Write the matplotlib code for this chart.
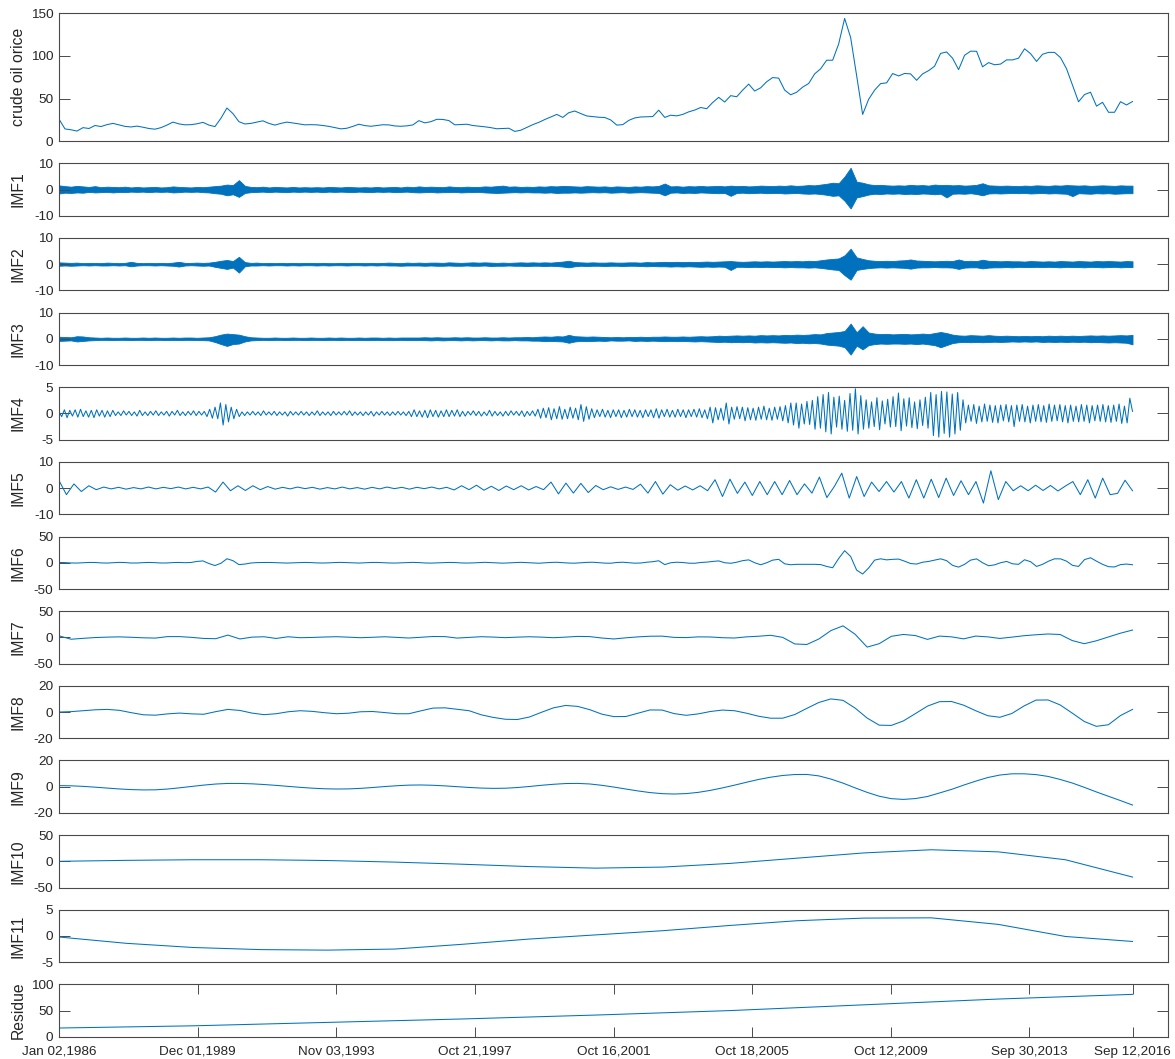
import matplotlib
matplotlib.use("Agg")
import matplotlib.pyplot as plt
import numpy as np

plt.rcParams["font.family"] = ["Liberation Sans", "DejaVu Sans"]
plt.rcParams["axes.unicode_minus"] = False

LINE_COLOR = "#0072BD"
AXIS_COLOR = "#4a4a4a"
TEXT_COLOR = "#262626"

# trading days from Jan 02,1986 to Sep 12,2016
N_DAYS = 7745
TICK_DAYS = [0, 1000, 2000, 3000, 4000, 5000, 6000, 7000, 7744]
TICK_LABELS = ["Jan 02,1986", "Dec 01,1989", "Nov 03,1993", "Oct 21,1997",
               "Oct 16,2001", "Oct 18,2005", "Oct 12,2009", "Sep 30,2013",
               "Sep 12,2016"]

PRICE = [26, 14.5, 13.5, 12, 16, 15, 18.5, 17.3, 19.5, 21,
         19.3, 17.5, 16.8, 17.8, 16.5, 15, 14.2, 16, 19, 22.5,
         20.4, 19.3, 19.5, 20.5, 22.2, 19, 17.2, 27, 39, 32.5,
         23, 20.3, 21, 22.5, 24, 21, 19, 21, 22.5, 21.5,
         20.4, 19.3, 19.5, 19.3, 18.5, 17.5, 16, 14.6, 15.3, 17.5,
         20, 18.4, 17.6, 18.5, 19.4, 19.2, 18, 17.6, 18.1, 19.2,
         24.2, 21.6, 23, 25.8, 25.6, 24.3, 19.3, 19.6, 20, 18.5,
         17.8, 17, 16, 14.7, 15, 15.3, 11.6, 13, 16.3, 19.5,
         22.2, 25.5, 28.5, 31.5, 28, 33.5, 35.5, 32.5, 29.7, 28.9,
         28.2, 27.9, 25, 19, 19.5, 24.5, 27.4, 28.5, 28.8, 29,
         36.5, 28, 30.6, 29.8, 31.5, 34.5, 36.6, 39.6, 38.2, 45.5,
         51.5, 46, 53.5, 52.2, 60, 67, 58.9, 62.7, 69.8, 74.7,
         74, 60, 54.5, 57.5, 63.5, 67.7, 79, 85, 95, 95,
         114, 144, 121.6, 77, 31.5, 49.2, 60, 67.6, 68.5, 79.4,
         76.6, 79.5, 79, 71.5, 79, 82.8, 88, 103, 104.7, 97.3,
         84, 100.8, 105.6, 105.5, 87.3, 92.2, 89.7, 90.5, 95.4, 95.4,
         97.4, 108.4, 102.7, 93.6, 102, 104.2, 104.2, 98, 85, 65.6,
         46.3, 54.8, 57.5, 41.2, 45.7, 34, 34, 46.4, 42.6, 46.6]

# upper / lower envelopes of the high-frequency IMFs
IMF1_HI = [1.6, 1.3, 1.1, 1.4, 1.2, 1.0, 1.3, 0.9, 1.1, 1.0,
           0.9, 1.1, 0.8, 1.0, 0.8, 0.9, 1.0, 0.8, 0.9, 1.2,
           1.0, 0.9, 0.8, 1.0, 0.9, 1.1, 1.3, 1.5, 1.9, 1.7,
           3.6, 1.4, 1.0, 0.9, 1.1, 0.8, 1.0, 0.9, 0.8, 1.0,
           0.8, 0.9, 0.8, 0.9, 0.8, 1.0, 0.9, 0.8, 1.0, 0.9,
           0.8, 0.9, 0.8, 1.0, 0.8, 0.9, 1.0, 0.8, 1.1, 0.9,
           1.2, 1.0, 1.1, 1.0, 0.9, 1.2, 1.0, 0.9, 1.1, 1.0,
           1.0, 1.2, 1.1, 1.3, 1.5, 1.1, 1.2, 1.0, 1.1, 1.0,
           1.2, 1.1, 1.3, 1.2, 1.4, 1.3, 1.2, 1.1, 1.3, 1.2,
           1.1, 1.2, 1.0, 1.2, 1.1, 1.0, 1.2, 1.1, 1.3, 1.2,
           1.4, 2.3, 1.2, 1.3, 1.1, 1.3, 1.2, 1.4, 1.2, 1.3,
           1.4, 1.2, 1.5, 1.3, 1.4, 1.2, 1.3, 1.5, 1.4, 1.3,
           1.5, 1.4, 1.6, 1.4, 1.5, 1.7, 1.6, 1.9, 2.2, 2.6,
           2.4, 5.0, 8.3, 3.0, 2.6, 2.0, 1.7, 1.8, 1.6, 1.5,
           1.6, 1.5, 1.8, 1.6, 1.7, 1.5, 1.9, 1.7, 1.8, 1.6,
           1.7, 1.5, 1.6, 1.8, 2.4, 1.6, 1.5, 1.4, 1.5, 1.4,
           1.3, 1.5, 1.4, 1.6, 1.5, 1.4, 1.6, 1.5, 1.7, 1.6,
           1.5, 1.6, 1.4, 1.5, 1.6, 1.5, 1.4, 1.6, 1.5, 1.5]
IMF1_LO = [-1.5, -1.2, -1.3, -1.1, -1.2, -0.9, -1.1, -1.0, -0.9, -1.1,
           -0.9, -1.0, -0.8, -0.9, -0.8, -1.0, -0.8, -0.9, -0.8, -1.1,
           -1.0, -0.8, -0.9, -0.8, -1.0, -1.1, -1.4, -1.6, -2.2, -1.8,
           -2.8, -1.3, -1.0, -0.9, -0.8, -1.0, -0.8, -0.9, -1.0, -0.8,
           -0.9, -0.8, -0.9, -0.8, -1.0, -0.8, -0.9, -0.8, -0.9, -1.0,
           -0.8, -0.9, -1.0, -0.8, -0.9, -0.8, -1.0, -0.9, -0.8, -1.0,
           -1.1, -1.0, -0.9, -1.1, -1.0, -1.0, -0.9, -1.1, -1.0, -1.0,
           -0.9, -1.1, -1.2, -1.3, -1.2, -1.1, -1.0, -1.1, -1.0, -1.1,
           -1.1, -1.2, -1.1, -1.3, -1.2, -1.2, -1.1, -1.2, -1.1, -1.0,
           -1.1, -1.0, -1.2, -1.1, -1.0, -1.2, -1.1, -1.0, -1.1, -1.2,
           -1.3, -2.2, -1.2, -1.1, -1.3, -1.2, -1.3, -1.1, -1.2, -1.3,
           -1.4, -1.3, -2.4, -1.3, -1.2, -1.4, -1.3, -1.2, -1.4, -1.3,
           -1.3, -1.5, -1.4, -1.3, -1.5, -1.6, -1.5, -1.7, -2.0, -2.4,
           -2.2, -4.3, -7.2, -3.0, -2.5, -1.9, -1.6, -1.7, -1.5, -1.6,
           -1.5, -1.7, -1.6, -1.7, -1.5, -1.6, -1.8, -1.6, -3.0, -1.6,
           -1.5, -1.6, -1.4, -1.7, -2.2, -1.5, -1.4, -1.5, -1.4, -1.3,
           -1.4, -1.3, -1.5, -1.4, -1.3, -1.5, -1.4, -1.5, -1.6, -2.5,
           -1.4, -1.5, -1.6, -1.4, -1.5, -1.4, -1.6, -1.5, -1.4, -1.4]

IMF2_HI = [0.7, 0.6, 0.5, 0.6, 0.4, 0.5, 0.5, 0.4, 0.6, 0.5,
           0.4, 0.5, 0.9, 0.5, 0.4, 0.5, 0.4, 0.5, 0.4, 0.6,
           0.9, 0.5, 0.5, 0.6, 0.5, 0.6, 0.9, 1.3, 1.6, 1.2,
           2.8, 0.8, 0.5, 0.6, 0.4, 0.5, 0.4, 0.5, 0.4, 0.5,
           0.4, 0.5, 0.5, 0.4, 0.5, 0.4, 0.4, 0.5, 0.4, 0.5,
           0.5, 0.4, 0.5, 0.4, 0.5, 0.6, 0.5, 0.4, 0.6, 0.5,
           0.6, 0.5, 0.6, 0.6, 0.5, 0.7, 0.6, 0.5, 0.6, 0.7,
           0.6, 0.7, 0.6, 0.5, 0.6, 0.5, 0.6, 0.7, 0.6, 0.7,
           0.6, 0.7, 0.6, 0.8, 1.0, 1.3, 0.8, 0.7, 0.6, 0.7,
           0.6, 0.6, 0.7, 0.6, 0.6, 0.7, 0.7, 0.6, 0.8, 0.7,
           0.8, 0.9, 0.8, 0.9, 0.8, 0.9, 0.8, 0.9, 1.0, 0.9,
           1.0, 1.1, 1.2, 1.0, 0.9, 1.0, 1.1, 1.0, 1.1, 1.0,
           1.1, 1.2, 1.1, 1.2, 1.1, 1.3, 1.2, 1.5, 1.8, 2.0,
           2.2, 3.4, 5.9, 2.6, 2.0, 1.5, 1.3, 1.2, 1.3, 1.2,
           1.4, 1.5, 1.8, 1.4, 1.3, 1.2, 1.1, 1.2, 1.3, 1.2,
           1.8, 1.2, 1.3, 1.2, 1.7, 1.3, 1.2, 1.1, 1.2, 1.1,
           1.1, 1.0, 1.2, 1.1, 1.0, 1.1, 1.0, 1.2, 1.1, 1.0,
           1.2, 1.1, 1.0, 1.2, 1.1, 1.2, 1.1, 1.0, 1.2, 1.1]
IMF2_LO = [-0.6, -0.5, -0.6, -0.5, -0.4, -0.5, -0.4, -0.5, -0.5, -0.4,
           -0.5, -0.4, -0.8, -0.5, -0.4, -0.4, -0.5, -0.4, -0.5, -0.6,
           -0.9, -0.5, -0.4, -0.5, -0.6, -0.5, -1.0, -1.4, -1.8, -1.3,
           -3.2, -0.8, -0.5, -0.5, -0.4, -0.5, -0.4, -0.4, -0.5, -0.4,
           -0.5, -0.4, -0.4, -0.5, -0.4, -0.5, -0.4, -0.4, -0.5, -0.4,
           -0.4, -0.5, -0.4, -0.5, -0.4, -0.5, -0.5, -0.6, -0.5, -0.5,
           -0.5, -0.6, -0.5, -0.6, -0.6, -0.5, -0.6, -0.6, -0.5, -0.6,
           -0.6, -0.5, -0.7, -0.6, -0.6, -0.5, -0.6, -0.6, -0.7, -0.6,
           -0.6, -0.7, -0.6, -0.7, -0.9, -1.2, -0.8, -0.6, -0.7, -0.6,
           -0.6, -0.7, -0.6, -0.6, -0.7, -0.6, -0.6, -0.7, -0.8, -0.7,
           -0.8, -0.8, -0.9, -0.8, -0.9, -0.8, -0.9, -1.0, -0.9, -1.0,
           -0.9, -1.0, -2.2, -1.0, -1.0, -1.1, -1.0, -1.1, -1.0, -1.1,
           -1.1, -1.2, -1.1, -1.2, -1.2, -1.3, -1.2, -1.4, -1.7, -2.0,
           -2.2, -4.2, -5.9, -2.2, -1.8, -1.5, -1.3, -1.2, -1.3, -1.2,
           -1.3, -1.4, -1.7, -1.3, -1.2, -1.2, -1.1, -1.2, -1.2, -1.3,
           -1.8, -1.3, -1.2, -1.2, -1.6, -1.3, -1.2, -1.2, -1.1, -1.2,
           -1.0, -1.1, -1.1, -1.0, -1.1, -1.0, -1.1, -1.2, -1.0, -1.1,
           -1.1, -1.2, -1.0, -1.1, -1.2, -1.1, -1.0, -1.2, -1.1, -1.1]

IMF3_HI = [0.8, 0.7, 0.6, 1.0, 0.9, 0.6, 0.5, 0.4, 0.5, 0.4,
           0.4, 0.5, 0.4, 0.4, 0.5, 0.4, 0.5, 0.4, 0.4, 0.5,
           0.4, 0.5, 0.5, 0.4, 0.5, 0.6, 1.0, 1.6, 2.0, 1.8,
           1.6, 1.0, 0.6, 0.5, 0.4, 0.4, 0.5, 0.4, 0.4, 0.5,
           0.4, 0.4, 0.5, 0.4, 0.4, 0.5, 0.4, 0.5, 0.4, 0.4,
           0.5, 0.4, 0.5, 0.5, 0.4, 0.5, 0.4, 0.5, 0.5, 0.5,
           0.5, 0.6, 0.5, 0.6, 0.5, 0.5, 0.6, 0.5, 0.6, 0.5,
           0.5, 0.6, 0.5, 0.5, 0.6, 0.5, 0.6, 0.6, 0.7, 0.6,
           0.8, 0.9, 0.8, 1.0, 0.9, 1.5, 1.0, 0.9, 0.8, 0.9,
           0.8, 0.7, 0.6, 0.7, 0.6, 0.7, 0.7, 0.8, 0.7, 0.8,
           0.8, 0.9, 0.8, 0.8, 0.9, 0.8, 0.9, 1.0, 0.9, 1.0,
           1.2, 1.1, 1.2, 1.3, 1.2, 1.3, 1.2, 1.4, 1.3, 1.4,
           1.3, 1.5, 1.4, 1.6, 1.5, 1.6, 1.8, 1.7, 2.2, 2.4,
           2.6, 3.0, 5.8, 2.5, 4.8, 2.4, 2.0, 1.8, 1.9, 1.7,
           1.8, 1.9, 1.7, 1.8, 2.0, 1.8, 2.2, 2.6, 2.2, 1.6,
           1.3, 1.2, 1.4, 1.3, 1.2, 1.4, 1.2, 1.1, 1.2, 1.1,
           1.0, 1.1, 1.0, 1.1, 1.0, 1.2, 1.1, 1.2, 1.1, 1.2,
           1.1, 1.2, 1.3, 1.2, 1.3, 1.2, 1.3, 1.4, 1.3, 1.5]
IMF3_LO = [-0.8, -0.7, -0.6, -1.0, -0.8, -0.6, -0.5, -0.4, -0.4, -0.5,
           -0.4, -0.4, -0.5, -0.4, -0.4, -0.5, -0.4, -0.4, -0.5, -0.4,
           -0.5, -0.4, -0.4, -0.5, -0.5, -0.6, -1.2, -2.0, -2.7, -2.0,
           -1.8, -1.0, -0.6, -0.5, -0.4, -0.5, -0.4, -0.4, -0.5, -0.4,
           -0.4, -0.5, -0.4, -0.4, -0.5, -0.4, -0.4, -0.5, -0.4, -0.5,
           -0.4, -0.5, -0.5, -0.4, -0.5, -0.5, -0.5, -0.4, -0.5, -0.5,
           -0.5, -0.5, -0.6, -0.5, -0.6, -0.5, -0.5, -0.6, -0.5, -0.6,
           -0.5, -0.5, -0.6, -0.5, -0.6, -0.6, -0.5, -0.6, -0.6, -0.7,
           -0.7, -0.9, -0.8, -0.9, -1.0, -1.5, -1.0, -0.8, -0.9, -0.8,
           -0.7, -0.8, -0.6, -0.7, -0.7, -0.6, -0.8, -0.7, -0.8, -0.7,
           -0.8, -0.9, -0.8, -0.9, -0.8, -0.9, -1.0, -0.9, -1.0, -1.1,
           -1.2, -1.1, -1.3, -1.2, -1.3, -1.2, -1.4, -1.3, -1.4, -1.3,
           -1.4, -1.5, -1.4, -1.6, -1.5, -1.7, -1.6, -1.8, -2.2, -2.4,
           -2.6, -3.2, -6.0, -2.6, -4.0, -2.4, -2.0, -1.8, -1.9, -1.8,
           -1.8, -1.9, -1.8, -2.0, -1.8, -2.1, -2.4, -3.2, -2.4, -1.6,
           -1.3, -1.2, -1.3, -1.2, -1.3, -1.2, -1.1, -1.2, -1.1, -1.0,
           -1.1, -1.0, -1.1, -1.0, -1.2, -1.1, -1.2, -1.1, -1.2, -1.1,
           -1.2, -1.1, -1.3, -1.2, -1.3, -1.4, -1.3, -1.4, -1.5, -2.1]

# successive peaks and troughs
IMF4 = [0.3, -0.6, 0.7, -0.8, 0.6, -0.5, 0.7, -0.7, 0.8, -0.6,
        0.5, -0.7, 0.6, -0.8, 0.7, -0.5, 0.6, -0.7, 0.5, -0.6, 0.6,
        -0.4, 0.3, -0.4, 0.5, -0.3, 0.4, -0.4, 0.3, -0.5, 0.6,
        -0.4, 0.3, -0.4, 0.4, -0.3, 0.5, -0.4, 0.3, -0.3, 0.4,
        -0.5, 0.4, -0.3, 0.6, -0.4, 0.3, -0.4, 0.4, -0.3, 0.5,
        -0.4, 0.4, -0.3, 0.4,
        -0.6, 0.8, -0.9, 1.2, -1.0, 2.0, -2.2, 1.7, -1.6, 1.2, -1.0, 0.8, -0.6,
        0.3, -0.4, 0.3, -0.3, 0.4, -0.3, 0.3, -0.4, 0.5, -0.3,
        0.3, -0.3, 0.4, -0.4, 0.3, -0.3, 0.3, -0.5, 0.4, -0.3,
        0.3, -0.3, 0.4, -0.3, 0.3, -0.4, 0.3, -0.3, 0.5, -0.4,
        0.3, -0.3, 0.3, -0.4, 0.4, -0.3, 0.3, -0.3, 0.4, -0.3,
        0.5, -0.4, 0.3, -0.3, 0.3, -0.4, 0.3, -0.3, 0.4, -0.5,
        0.3, -0.3, 0.4, -0.3, 0.3, -0.4, 0.3, -0.3, 0.4, -0.3,
        0.3, -0.4, 0.4,
        -0.6, 0.7, -0.6, 0.5, -0.7, 0.6, -0.8, 0.7, -0.6, 0.6,
        -0.7, 0.5, -0.6, 0.7, -0.6, 0.6, -0.5, 0.7, -0.6,
        0.4, -0.5, 0.4, -0.3, 0.5, -0.4, 0.4, -0.5, 0.3, -0.4,
        0.6, -0.5, 0.4, -0.4, 0.3, -0.5, 0.4, -0.4, 0.5, -0.3,
        0.4, -0.4, 0.5, -0.6, 0.4, -0.4, 0.5, -0.5,
        0.8, -0.9, 1.0, -0.8, 1.1, -1.2, 0.9, -1.0, 1.3, -1.1,
        0.8, -1.0, 1.2, -0.9, 1.0, -1.2, 1.7, -1.5, 1.3, -1.1, 0.9, -0.8,
        0.7, -0.6, 0.8, -0.7, 0.6, -0.8, 0.7, -0.6, 0.7, -0.8,
        0.6, -0.7, 0.8, -0.6, 0.7, -0.7, 0.6, -0.8, 0.7, -0.6,
        0.7, -0.8, 0.9, -0.9, 0.7, -0.6, 0.8, -0.7, 0.6, -0.7,
        0.8, -0.6, 0.7, -0.8, 0.7, -0.6, 0.8, -0.7, 0.9, -0.8, 0.7,
        -1.0, 1.2, -1.8, 1.1, -1.2, 1.0, -1.3, 2.0, -2.0, 1.2,
        -1.1, 1.3, -1.0, 1.2, -1.4, 1.1, -1.2, 1.0, -1.3, 1.2,
        -1.1, 1.4, -1.2, 1.0, -1.3, 1.2, -1.1, 1.3, -1.4,
        1.5, -1.8, 2.0, -2.2, 2.0, -2.8, 1.8, -2.0, 2.3, -2.1, 2.5,
        -3.0, 3.2, -2.8, 3.6, -3.5, 4.0, -3.9, 3.1, -2.6, 3.3,
        -3.0, 2.5, -3.4, 3.8, -3.2, 4.7, -3.9, 3.4, -3.0,
        2.6, -2.8, 2.2, -2.5, 3.0, -3.1, 2.4, -2.0, 2.7, -2.6,
        3.2, -2.5, 3.9, -3.3, 2.8, -2.4, 3.0, -2.7, 2.2, -2.9,
        2.6, -2.3, 3.1, -2.8,
        4.0, -4.2, 3.6, -4.5, 4.2, -3.8, 4.1, -4.5, 3.7, -3.9, 4.0, -3.2, 2.6,
        -1.8, 1.6, -1.5, 1.7, -1.9, 1.4, -1.6, 1.8, -1.5, 1.6,
        -1.7, 1.5, -1.8, 1.6, -1.4, 1.7, -1.6, 1.5, -2.5, 1.6,
        -1.5, 1.7, -1.6, 1.4, -1.8, 1.6, -1.5, 1.7, -1.6, 1.5,
        -1.7, 1.8, -1.5, 1.6, -1.4, 1.7, -1.6, 1.5, -1.8, 1.6,
        -1.5, 1.4, -1.6, 1.7, -1.5, 1.6, -1.8, 1.5, -1.4, 1.6,
        -1.5, 1.7, -1.6, 1.5, -1.7, 1.6, -1.5, 1.8, -1.9, 1.4,
        -1.8, 2.9, 0.4]

IMF5 = [2.9, -2.5, 1.6, -1.3, 0.9, -0.6,
        0.4, -0.3, 0.3, -0.4, 0.2, -0.3, 0.4, -0.3, 0.3, -0.2,
        0.4, -0.3, 0.3, -0.3, 0.4,
        -1.5, 2.3, -1.0, 0.9, -0.9, 0.9, -0.6, 0.6,
        -0.4, 0.3, -0.3, 0.4, -0.2, 0.3, -0.4, 0.2, -0.3, 0.4,
        -0.3, 0.2, -0.4, 0.3, -0.3, 0.4, -0.2, 0.3, -0.4, 0.3,
        -0.2, 0.4, -0.3, 0.3,
        -0.7, 0.9, -0.6, 1.1, -0.8, 0.7, -0.9, 0.8, -0.6, 0.9,
        -0.7, 0.6, -0.6,
        2.3, -2.2, 1.9, -1.9, 1.8, -1.7, 1.0, -0.6,
        0.5, -0.5, 0.4, -0.5, 1.5, -1.9, 2.5, -2.3, 1.3, -0.8,
        0.8, -0.7, 0.9, -1.0, 3.2, -3.2, 3.4, -2.0, 2.3, -2.8,
        2.5, -2.5, 2.5, -2.5, 2.9, -2.5, 1.6, -1.9, 4.2, -3.6,
        0.6, 5.7, -3.8, 4.4, -3.2, 2.3, -1.3, 2.5, -1.5, 2.5,
        -3.8, 3.2, -3.8, 3.4, -3.6, 3.8, -2.8, 2.8, -2.5, 2.5,
        -5.7, 6.6, -4.4, 2.5, -1.0, 0.9, -1.0, 1.1, -0.9, 1.0,
        -1.1, 0.8, 2.5, -2.5, 3.2, -3.8, 3.8, -2.5, -2.0, 3.0, -1.0]

IMF6 = [0.5, 0.3, -0.4, -0.6, 0, 0.6, 0.5, -0.3, -0.6, 0.1,
        0.7, 0.4, -0.5, -0.5, 0.2, 0.6, 0.2, -0.5, -0.4, 0.3, 0.6, 0.1,
        0.5, 2.5, 3.5, -1.5, -5.3, -1, 7.6, 4, -3.5, -2.5, -0.5, 0.3,
        0.4, 0.6, 0.2, -0.4, -0.6, -0.2, 0.3, 0.6, 0.3, -0.3,
        -0.5, -0.2, 0.4, 0.7, 0.2, -0.5, -0.6, 0, 0.5, 0.6,
        0.1, -0.4, -0.6, -0.1, 0.4, 0.7, 0.3, -0.4, -0.7, -0.2,
        0.3, 0.6, 0.4, -0.3, -0.6, -0.3, 0.3, 0.8, 0.3, -0.4,
        -0.8, -0.2, 0.4, 0.8, 0.2, -0.5, -0.9, -0.1, 0.6, 0.9,
        0.2, -0.6, -0.8, 0, 0.7, 1.0, 0.1, -0.7, -0.9,
        0.5, 1.0, 0.2, -0.8, -0.5, 1.0, 2.0,
        3.8, -3.5, 0, 1, 0.5, -0.8, -1, 0.5, 1.2, 2.5,
        3.5, 0, -1, 1, 4, 5.5, 0, -3.8, 0, 5,
        6.5, -2, -3.8, -3, -3, -3, -3, -3.5, -7, -9.5,
        8, 23, 12, -14, -21.5, -10, 5, 7.5, 5.5, 6.5,
        7, 3, -1.5, -2.5, 1, 2.5, 5, 7.5, 4, -5,
        -8.3, -3, 5, 7.4, 0, -5.7, -4, 0, 2.5, -2,
        -3, 5.7, 2, -7, -3, 3, 7.5, 7.4, 3, -5,
        -7, 6, 9.5, 3, -3, -7.5, -8, -3.5, -2.5, -3.8]

IMF7 = [3, -3.5, -1.8, -0.3, 0.5, 1, 0.2, -0.8, -1.3, 1.5,
        1.5, 0, -2.0, -2.5, 4.4, -3.0, 0.5, 1.2, -2.0, 1.2,
        -0.6, -0.1, 0.7, 1.3, 0.4, -0.6, 0.2, 1.2, 0, -1.2,
        0.2, 1.7, 1.5, -1.3, 0, 1.3, 0.6, -0.5, 0.5, 1.2,
        0.5, -0.6, 0.5, 1.9, 1.5, -1.2, -3.0, -0.8, 1.0, 2.2,
        2.4, 0, -0.4, 1.0, 0.8, -0.6, -1.2, 1.0, 2.2, 4.0,
        0, -12.5, -13.5, -3, 13, 22, 6, -18.5, -12, 2,
        5.6, 3.5, -3.8, 2.5, 1, -2.8, 2.5, 1, -2, 0.5,
        3.2, 5, 6.5, 5.5, -6, -12, -6.5, 0.8, 8, 14]

IMF8 = [0.0, 0.3, 1.0, 1.7, 2.0, 1.3, -0.5, -2.1, -2.4, -1.4,
        -0.8, -1.4, -1.7, 0.3, 2.0, 1.2, -0.8, -2.0, -1.3, 0.2,
        1.0, 0.5, -0.5, -1.3, -0.9, 0.2, 0.4, -0.4, -1.3, -1.3,
        0.9, 3.0, 3.2, 2.1, 1.0, -2.1, -4.1, -5.5, -5.7, -3.8,
        -0.2, 3.2, 5.0, 4.3, 1.8, -1.6, -3.5, -3.4, -0.9, 1.6,
        1.5, -1.2, -2.5, -1.4, 0.4, 1.5, 1.0, -0.9, -3.2, -4.7,
        -4.7, -1.9, 2.8, 7.3, 10.0, 8.9, 3.0, -4.6, -10.0, -10.2,
        -6.8, -1.2, 4.5, 7.9, 8.0, 5.2, 1.0, -2.8, -4.0, -1.1,
        4.6, 9.1, 9.2, 5.4, -0.8, -7.2, -10.9, -9.7, -2.7, 2.0]

IMF9 = [0.8, 0.65, 0.23, -0.38, -1.08, -1.74, -2.24, -2.48, -2.4, -1.8,
        -0.87, 0.18, 1.2, 2.02, 2.46, 2.45, 2.17, 1.64, 0.98, 0.22,
        -0.51, -1.15, -1.59, -1.79, -1.7, -1.29, -0.65, 0.09, 0.71, 1.18,
        1.29, 1.07, 0.6, 0, -0.6, -1.07, -1.29, -1.18, -0.66, 0.14,
        1.06, 1.82, 2.38, 2.48, 2.06, 1.04, -0.3, -1.8, -3.25, -4.5,
        -5.32, -5.6, -5.27, -4.33, -2.83, -0.95, 1.15, 3.37, 5.5, 7.21,
        8.53, 9.25, 9.32, 8.2, 5.77, 2.7, -0.91, -4.35, -7.27, -9.13,
        -9.7, -9.07, -7.49, -4.8, -2.06, 1.18, 4.2, 6.96, 8.86, 9.8,
        9.8, 9.2, 7.8, 5.5, 2.8, -0.5, -4, -7.3, -10.6, -14]

IMF10 = [0, 1.8, 3, 3, 1.5, -1.5, -5.5, -10, -13, -11, -4, 6, 16, 22, 18, 3, -30]
IMF11 = [-0.2, -1.4, -2.2, -2.6, -2.7, -2.5, -1.6, -0.6, 0.2, 1.0, 2.0, 2.9,
         3.4, 3.45, 2.2, -0.1, -1.05]
RESIDUE = [16.8, 21, 27.5, 34, 41.5, 50, 61, 72, 80.9]

PANELS = [
    ("crude oil orice", [0, 50, 100, 150], (0, 150)),
    ("IMF1", [-10, 0, 10], (-10, 10)),
    ("IMF2", [-10, 0, 10], (-10, 10)),
    ("IMF3", [-10, 0, 10], (-10, 10)),
    ("IMF4", [-5, 0, 5], (-5, 5)),
    ("IMF5", [-10, 0, 10], (-10, 10)),
    ("IMF6", [-50, 0, 50], (-50, 50)),
    ("IMF7", [-50, 0, 50], (-50, 50)),
    ("IMF8", [-20, 0, 20], (-20, 20)),
    ("IMF9", [-20, 0, 20], (-20, 20)),
    ("IMF10", [-50, 0, 50], (-50, 50)),
    ("IMF11", [-5, 0, 5], (-5, 5)),
    ("Residue", [0, 50, 100], (0, 100)),
]
SERIES = [PRICE, None, None, None, IMF4, IMF5, IMF6, IMF7, IMF8, IMF9,
          IMF10, IMF11, RESIDUE]
BANDS = {1: (IMF1_LO, IMF1_HI), 2: (IMF2_LO, IMF2_HI), 3: (IMF3_LO, IMF3_HI)}


def days_for(values):
    return np.linspace(0, N_DAYS - 1, len(values))


W, H = 1175, 1059
fig = plt.figure(figsize=(W / 100, H / 100), dpi=100)

left, right = 59, 1168
for i, (label, yticks, ylim) in enumerate(PANELS):
    if i == 0:
        top, height = 13.3, 128
    else:
        top, height = 163.3 + (i - 1) * 74.64, 52.5
    ax = fig.add_axes([left / W, 1 - (top + height) / H, (right - left) / W, height / H])

    if i in BANDS:
        lo, hi = BANDS[i]
        ax.fill_between(days_for(hi), lo, hi, color=LINE_COLOR, lw=0.6,
                        edgecolor=LINE_COLOR)
    else:
        vals = SERIES[i]
        ax.plot(days_for(vals), vals, color=LINE_COLOR, lw=0.75)

    ax.set_xlim(0, 8000)
    ax.set_ylim(*ylim)
    ax.set_yticks(yticks)
    ax.set_ylabel(label, fontsize=11.3, color=TEXT_COLOR)
    ax.yaxis.set_label_coords(-0.030, 0.5)
    for sp in ax.spines.values():
        sp.set_color(AXIS_COLOR)
        sp.set_linewidth(0.8)
    ax.tick_params(axis="y", direction="in", length=7.7, width=0.7, color=AXIS_COLOR,
                   left=True, right=True, labelsize=9.7, labelcolor=TEXT_COLOR, pad=4)
    if i == len(PANELS) - 1:
        ax.set_xticks(TICK_DAYS)
        ax.set_xticklabels(TICK_LABELS)
        ax.tick_params(axis="x", direction="in", length=7.5, width=0.7, color=AXIS_COLOR,
                       top=True, bottom=True, labelsize=9.7, labelcolor=TEXT_COLOR, pad=6.5)
    else:
        ax.set_xticks([])

fig.savefig("out.png", dpi=100)
